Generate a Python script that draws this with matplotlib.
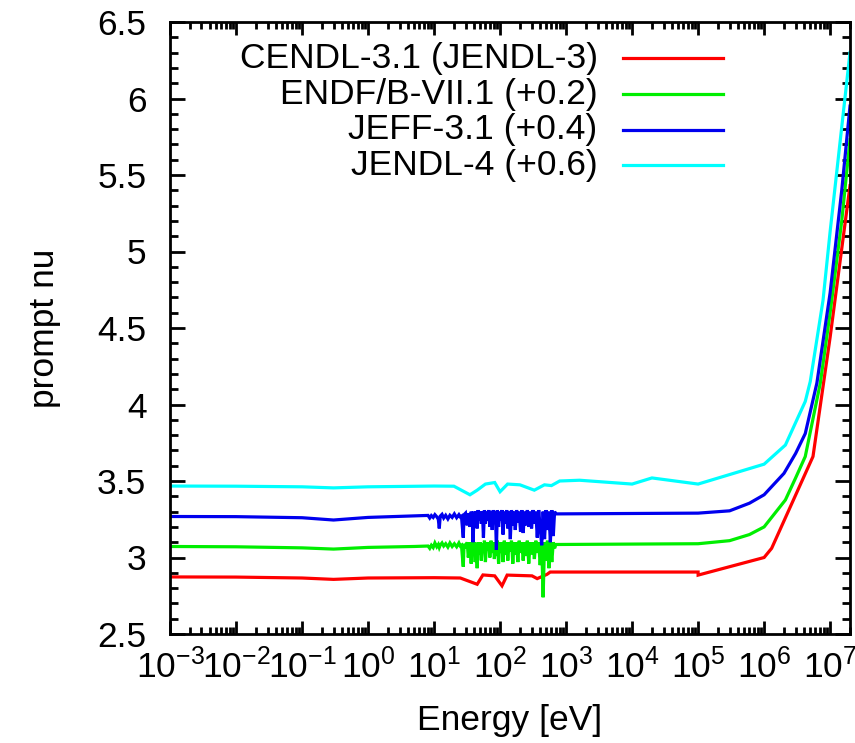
import matplotlib
matplotlib.use("Agg")
import matplotlib.pyplot as plt
import numpy as np
from matplotlib.ticker import LogLocator, MultipleLocator, FixedLocator

plt.rcParams['font.family'] = ['Liberation Sans', 'DejaVu Sans']
plt.rcParams['mathtext.default'] = 'regular'

labels = ["CENDL-3.1 (JENDL-3)", "ENDF/B-VII.1 (+0.2)", "JEFF-3.1 (+0.4)", "JENDL-4 (+0.6)"]
offsets = [0.0, 0.2, 0.4, 0.6]
colors = ["#ff0000", "#00ee00", "#0000ee", "#00ffff"]

# CENDL-3.1
E_cendl = [1e-3, 1e-2, 0.1, 0.3, 1, 10, 25, 45, 55, 83, 107, 128, 305, 365, 515, 575,
           1e5, 1.001e5, 1e6, 1.3e6, 5.5e6, 1e7, 2e7]
nu_cendl = [2.873, 2.872, 2.866, 2.857, 2.866, 2.868, 2.866, 2.825, 2.886, 2.88, 2.815, 2.885,
            2.88, 2.862, 2.89, 2.905, 2.905, 2.885, 3.0, 3.06, 3.66, 4.44, 5.43]

# shared resonance energy grid (eV)
E_wig = [8.1, 8.6, 9.1, 9.7, 10.3, 11, 11.6, 12, 12.4, 13.2, 14, 15, 16.2, 17.4, 18.8, 20.3, 22, 23.8, 25]
E_res = [26, 27.7, 28.5, 30, 31.8, 33, 35, 36.5, 38, 39, 40.5, 42, 43.5, 45, 46.5, 48, 50, 52, 54, 56,
         58, 60, 62.5, 65, 67.5, 70, 73, 76, 79, 82, 85, 88, 91, 95, 99, 103, 107, 111, 116, 121,
         126, 131, 137, 143, 149, 156, 163, 170, 178, 186, 195, 204, 214, 224, 235, 247, 259, 272,
         286, 300, 315, 331, 348, 366, 385, 405, 427, 449, 472, 496, 522, 549, 578, 608, 640, 670]

# ENDF/B-VII.1
E_endf_lo = [1e-3, 1e-2, 0.1, 0.3, 1, 5]
nu_endf_lo = [2.872, 2.870, 2.863, 2.855, 2.866, 2.872]
nu_endf_wig = [2.875, 2.860, 2.880, 2.865, 2.895, 2.870, 2.885, 2.865, 2.880, 2.895, 2.875, 2.890,
               2.868, 2.895, 2.872, 2.890, 2.870, 2.895, 2.875]
nu_endf_res = [2.88, 2.74, 2.89, 2.86, 2.90, 2.80, 2.90, 2.76, 2.90, 2.84, 2.90, 2.77, 2.89, 2.73,
               2.90, 2.82, 2.90, 2.78, 2.89, 2.84, 2.91, 2.77, 2.90, 2.85, 2.90, 2.80, 2.91, 2.83,
               2.90, 2.79, 2.90, 2.81, 2.91, 2.76, 2.90, 2.83, 2.90, 2.77, 2.91, 2.82, 2.90, 2.78,
               2.90, 2.84, 2.91, 2.76, 2.90, 2.82, 2.90, 2.77, 2.91, 2.83, 2.90, 2.78, 2.90, 2.81,
               2.91, 2.76, 2.90, 2.82, 2.90, 2.79, 2.91, 2.83, 2.90, 2.75, 2.90, 2.54, 2.90, 2.78,
               2.91, 2.73, 2.90, 2.77, 2.90, 2.86]
E_endf_hi = [700, 1e5, 3e5, 6e5, 1e6, 2.1e6, 3e6, 4.2e6, 7.1e6, 1e7, 1.5e7, 2e7]
nu_endf_hi = [2.885, 2.89, 2.91, 2.95, 3.00, 3.176, 3.32, 3.46, 3.94, 4.40, 5.00, 5.53]

# JEFF-3.1
E_jeff_lo = [1e-3, 1e-2, 0.1, 0.3, 1, 5]
nu_jeff_lo = [2.868, 2.867, 2.860, 2.845, 2.862, 2.872]
nu_jeff_wig = [2.875, 2.858, 2.874, 2.862, 2.880, 2.866, 2.850, 2.790, 2.870, 2.882, 2.858, 2.876,
               2.852, 2.876, 2.862, 2.885, 2.860, 2.880, 2.865]
nu_jeff_res = [2.87, 2.73, 2.88, 2.89, 2.81, 2.89, 2.80, 2.90, 2.86, 2.70, 2.90, 2.85, 2.90, 2.79,
               2.91, 2.84, 2.90, 2.82, 2.90, 2.73, 2.91, 2.82, 2.90, 2.84, 2.91, 2.80, 2.90, 2.78,
               2.91, 2.82, 2.90, 2.65, 2.91, 2.80, 2.90, 2.84, 2.91, 2.75, 2.90, 2.82, 2.91, 2.79,
               2.90, 2.72, 2.91, 2.81, 2.90, 2.78, 2.91, 2.83, 2.90, 2.77, 2.91, 2.76, 2.90, 2.81,
               2.91, 2.80, 2.90, 2.79, 2.91, 2.82, 2.90, 2.73, 2.91, 2.80, 2.68, 2.90, 2.72, 2.91,
               2.78, 2.90, 2.70, 2.91, 2.74, 2.90]
E_jeff_hi = [700, 1e5, 3e5, 6e5, 1e6, 2e6, 3e6, 4.2e6, 6.3e6, 1e7, 1.5e7, 2e7]
nu_jeff_hi = [2.885, 2.89, 2.905, 2.955, 3.01, 3.15, 3.28, 3.41, 3.74, 4.33, 5.00, 5.55]

# JENDL-4
E_jendl4 = [1e-3, 1e-2, 0.1, 0.3, 1, 10, 20, 35, 45, 60, 83, 100, 130, 200, 330, 470, 600, 800,
            1600, 1e4, 2e4, 1e5, 1e6, 2.1e6, 4.2e6, 5e6, 7.8e6, 1e7, 2e7]
nu_jendl4 = [2.867, 2.866, 2.862, 2.855, 2.862, 2.867, 2.866, 2.81, 2.84, 2.88, 2.89, 2.83, 2.88,
             2.875, 2.84, 2.875, 2.87, 2.90, 2.905, 2.88, 2.92, 2.88, 3.01, 3.135, 3.42, 3.55,
             4.08, 4.53, 5.70]

series = [
    (E_cendl, nu_cendl),
    (E_endf_lo + E_wig + E_res + E_endf_hi, nu_endf_lo + nu_endf_wig + nu_endf_res + nu_endf_hi),
    (E_jeff_lo + E_wig + E_res + E_jeff_hi, nu_jeff_lo + nu_jeff_wig + nu_jeff_res + nu_jeff_hi),
    (E_jendl4, nu_jendl4),
]

fig = plt.figure(figsize=(8.55, 7.43), dpi=100)
ax = fig.add_axes([170/855, 1-634/743, 680/855, 612/743])

for (E, nu), off, c in zip(series, offsets, colors):
    ax.plot(E, np.array(nu) + off, color=c, lw=2.3, solid_joinstyle='miter')

ax.set_xscale('log')
ax.set_xlim(1e-3, 2e7)
ax.set_ylim(2.5, 6.5)

ax.xaxis.set_major_locator(FixedLocator([10.0**k for k in range(-3, 8)]))
ax.xaxis.set_minor_locator(LogLocator(base=10, subs=np.arange(2, 10), numticks=30))
ax.yaxis.set_minor_locator(MultipleLocator(0.1))
ax.set_yticks([2.5, 3, 3.5, 4, 4.5, 5, 5.5, 6, 6.5])
ax.set_yticklabels(["2.5", "3", "3.5", "4", "4.5", "5", "5.5", "6", "6.5"])

fs = 25.5
ax.tick_params(axis='both', which='both', direction='in', top=True, right=True, width=2.0,
               labelsize=fs, color='black')
ax.tick_params(axis='x', which='major', length=9.5, pad=10)
ax.tick_params(axis='x', which='minor', length=5)
ax.tick_params(axis='y', which='major', length=11, pad=17)
ax.tick_params(axis='y', which='minor', length=6)
for s in ax.spines.values():
    s.set_linewidth(2.0)

ax.set_xlabel("Energy [eV]", fontsize=fs, labelpad=14)
ax.set_ylabel("prompt nu", fontsize=fs, labelpad=26)

# legend (manual, gnuplot style: text right-aligned, sample on the right)
rows = [0.941, 0.882, 0.824, 0.766]
for lab, c, yy in zip(labels, colors, rows):
    ax.text(0.629, yy, lab, transform=ax.transAxes, ha='right', va='center', fontsize=fs)
    ax.plot([0.666, 0.813], [yy, yy], transform=ax.transAxes, color=c, lw=2.3)

fig.savefig("out.png", dpi=100)
